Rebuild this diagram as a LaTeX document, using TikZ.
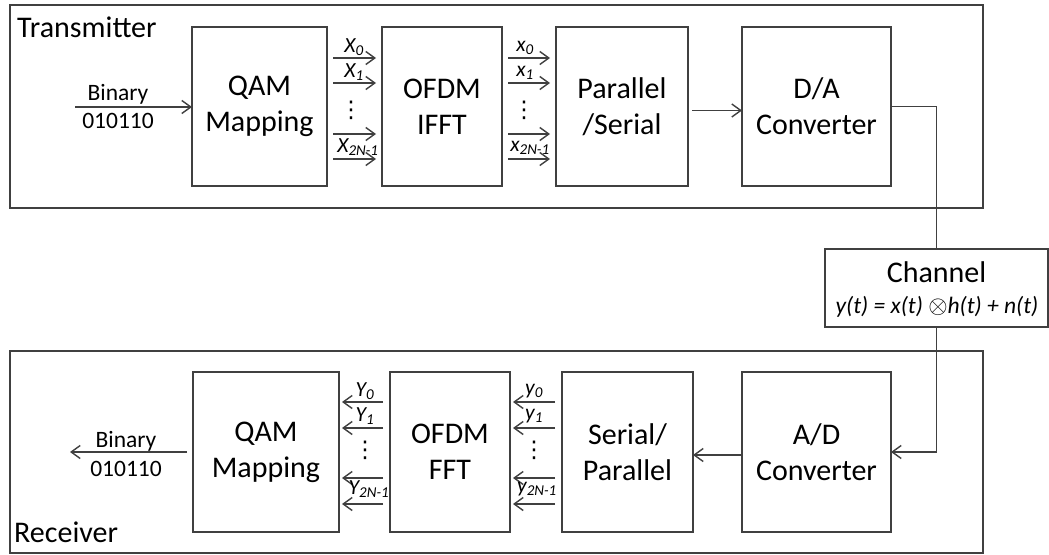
\documentclass[tikz,border=0pt]{standalone}
\usepackage{fontspec}
\setmainfont{Carlito}
\newfontfamily\djv{DejaVu Sans}
\usetikzlibrary{arrows.meta}
\definecolor{ln}{HTML}{404040}
\begin{document}
\begin{tikzpicture}[x=1pt,y=-1pt,
  box/.style={draw=ln, line width=1.5pt, align=center, inner sep=0pt, outer sep=0pt, font=\fontsize{30}{36}\selectfont},
  arr/.style={-{Straight Barb[length=9pt,width=13pt]}, draw=ln, line width=1.4pt},
  wire/.style={draw=ln, line width=1.4pt},
  lbl/.style={font=\fontsize{21.5}{24}\selectfont\itshape, inner sep=0pt, anchor=base},
  vd/.style={font=\fontsize{23}{24}\selectfont\djv, inner sep=0pt},
  bin/.style={font=\fontsize{23.5}{28}\selectfont, inner sep=0pt, anchor=base},
  ttl/.style={font=\fontsize{30}{36}\selectfont, inner sep=0pt, anchor=base west}
]
\useasboundingbox (0,0) rectangle (1049,554);
\fill[white] (0,0) rectangle (1049,554);

% outer frames
\node[box, minimum width=973pt, minimum height=203pt] (tx) at (496.5,106.5) {};
\node[box, minimum width=973pt, minimum height=202pt] (rx) at (496.5,452) {};
\node[ttl] (txt) at (17,37) {Transmitter};
\node[ttl] (rxt) at (14,542) {Receiver};

% transmitter blocks
\node[box, minimum width=135pt, minimum height=159pt] (tqam) at (259.5,106.5) {QAM\\Mapping};
\node[box, minimum width=120pt, minimum height=159pt] (tofdm) at (442,106.5) {OFDM\\IFFT};
\node[box, minimum width=132pt, minimum height=159pt] (tps) at (622,106.5) {Parallel\\/Serial};
\node[box, minimum width=149pt, minimum height=159pt] (tda) at (816.5,106.5) {D/A\\Converter};

% receiver blocks
\node[box, minimum width=146pt, minimum height=160pt] (rqam) at (266,452) {QAM\\Mapping};
\node[box, minimum width=120pt, minimum height=160pt] (rofdm) at (450,452) {OFDM\\FFT};
\node[box, minimum width=131pt, minimum height=160pt] (rsp) at (627.5,452) {Serial/\\Parallel};
\node[box, minimum width=149pt, minimum height=160pt] (rad) at (816.5,452) {A/D\\Converter};

% channel
\node[box, minimum width=223pt, minimum height=78pt, fill=white] (chan) at (936.5,288) {};
\node[inner sep=0pt, anchor=base, font=\fontsize{30}{36}\selectfont] (chant) at (936.5,282) {Channel};
\node[inner sep=0pt, anchor=base, font=\fontsize{23.5}{26}\selectfont\itshape] (chanf) at (937,313) {y(t) = x(t) \ensuremath{\otimes}h(t) + n(t)};

% binary input / output
\coordinate (tin) at (75,107);
\draw[arr] (tin) -- (tqam.west |- tin);
\node[bin] (tb1) at (118,100) {Binary};
\node[bin] (tb2) at (118,128) {010110};
\coordinate (rout) at (70,452);
\draw[arr, shorten <=6pt] (rqam.west |- rout) -- (rout);
\node[bin] (rb1) at (126,447) {Binary};
\node[bin] (rb2) at (126,476) {010110};

% parallel arrows, transmitter
\foreach \yy [count=\i] in {58,83,134,159} {
  \coordinate (tl\i) at (0,\yy);
  \draw[arr, shorten <=6pt, shorten >=6pt] (tqam.east |- tl\i) -- (tofdm.west |- tl\i);
  \draw[arr, shorten <=6pt, shorten >=6pt] (tofdm.east |- tl\i) -- (tps.west |- tl\i);
}
\node[lbl] (X0) at (354,52) {X\textsubscript{0}};
\node[lbl] (X1) at (354,77) {X\textsubscript{1}};
\node[vd] (Xd) at (351,110) {⋮};
\node[lbl] (XN) at (358,152) {X\textsubscript{2N-1}};
\node[lbl] (x0) at (525,51) {x\textsubscript{0}};
\node[lbl] (x1) at (525,76) {x\textsubscript{1}};
\node[vd] (xd) at (524,110) {⋮};
\node[lbl] (xN) at (530,151) {x\textsubscript{2N-1}};

% parallel arrows, receiver
\foreach \yy [count=\i] in {402,428,478,504} {
  \coordinate (rl\i) at (0,\yy);
  \draw[arr, shorten <=7pt, shorten >=3pt] (rofdm.west |- rl\i) -- (rqam.east |- rl\i);
  \draw[arr, shorten <=7pt, shorten >=3pt] (rsp.west |- rl\i) -- (rofdm.east |- rl\i);
}
\node[lbl] (Y0) at (365,396) {Y\textsubscript{0}};
\node[lbl] (Y1) at (365,421) {Y\textsubscript{1}};
\node[vd] (Yd) at (365,450) {⋮};
\node[lbl] (YN) at (369,494) {Y\textsubscript{2N-1}};
\node[lbl] (y0) at (534,394) {y\textsubscript{0}};
\node[lbl] (y1) at (534,419) {y\textsubscript{1}};
\node[vd] (yd) at (534,450) {⋮};
\node[lbl] (yN) at (537,492) {y\textsubscript{2N-1}};

% main chain connectors
\draw[arr, shorten <=4pt] ([yshift=-4pt]tps.east) -- ([yshift=-4pt]tda.west);
\draw[wire] (tda.east) -| (chan.north);
\draw[arr] (chan.south) |- (rad.east);
\draw[arr] ([yshift=-3pt]rad.west) -- ([yshift=-3pt]rsp.east);
\end{tikzpicture}
\end{document}
